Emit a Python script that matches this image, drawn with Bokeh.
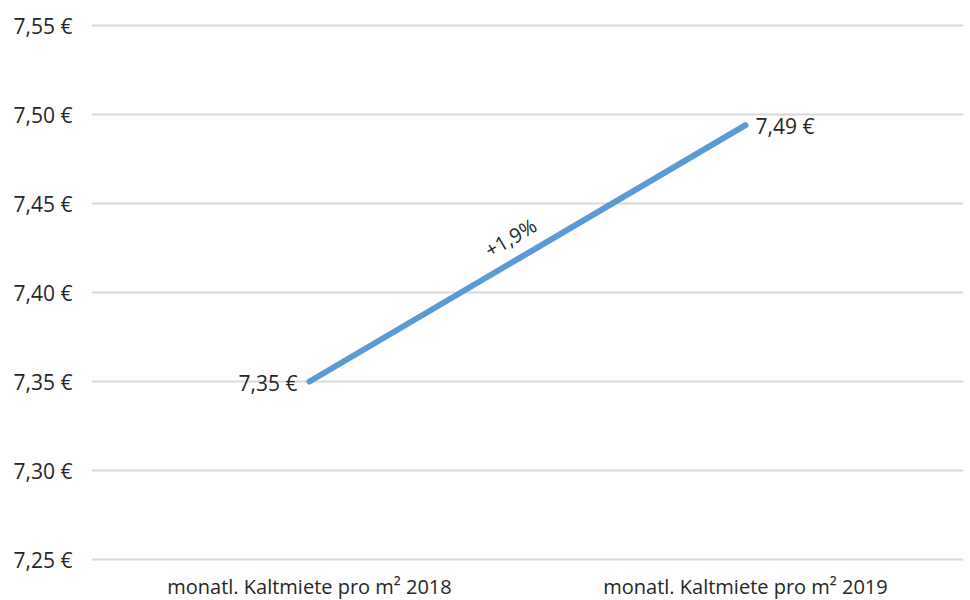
import math
from bokeh.plotting import figure
from bokeh.models import FactorRange, Range1d, FixedTicker, CustomJSTickFormatter, ColumnDataSource
from bokeh.core.properties import value
from bokeh.embed import file_html
from bokeh.resources import INLINE

# Monthly net cold rent per m², 2018 vs. 2019
categories = ["monatl. Kaltmiete pro m² 2018", "monatl. Kaltmiete pro m² 2019"]
rent = [7.35, 7.494]
change_label = "+1,9%"
y_ticks = [7.25, 7.30, 7.35, 7.40, 7.45, 7.50, 7.55]

FONT = "Open Sans"
TEXT_COLOR = "#262626"
LINE_COLOR = "#5B9BD5"
GRID_COLOR = "#d9d9d9"

FRAME_W = 872
PX_PER_UNIT_Y = 1780.0  # pixels per 1 € on the value axis
PAD_PX = 3
FRAME_H = int(round((y_ticks[-1] - y_ticks[0]) * PX_PER_UNIT_Y)) + 2 * PAD_PX
pad = PAD_PX / PX_PER_UNIT_Y

p = figure(
    frame_width=FRAME_W, frame_height=FRAME_H,
    x_range=FactorRange(factors=categories, range_padding=0),
    y_range=Range1d(y_ticks[0] - pad, y_ticks[-1] + pad),
    output_backend="svg", toolbar_location=None,
    min_border_left=91, min_border_right=7,
    min_border_top=22, min_border_bottom=30,
)
p.outline_line_color = None
p.background_fill_color = "white"
p.border_fill_color = "white"

# value axis
p.yaxis.ticker = FixedTicker(ticks=y_ticks)
p.yaxis.formatter = CustomJSTickFormatter(code="return tick.toFixed(2).replace('.', ',') + ' €';")
p.yaxis.axis_line_color = None
p.yaxis.major_tick_line_color = None
p.yaxis.minor_tick_line_color = None
p.yaxis.major_label_standoff = 13
p.yaxis.major_label_text_font = FONT
p.yaxis.major_label_text_font_size = "21px"
p.yaxis.major_label_text_color = TEXT_COLOR

# category axis
p.xaxis.axis_line_color = None
p.xaxis.major_tick_line_color = None
p.xaxis.minor_tick_line_color = None
p.xaxis.major_label_standoff = 4
p.xaxis.major_label_text_font = FONT
p.xaxis.major_label_text_font_size = "20px"
p.xaxis.major_label_text_color = TEXT_COLOR

p.xgrid.grid_line_color = None
p.ygrid.grid_line_color = GRID_COLOR
p.ygrid.grid_line_width = 2

src = ColumnDataSource(data=dict(
    cat=categories,
    rent=rent,
    label=[f"{v:.2f}".replace(".", ",") + " €" for v in rent],
))

p.line(x="cat", y="rent", source=src, line_color=LINE_COLOR, line_width=6, line_cap="round")

# value labels: left of the first point, right of the last
p.text(x=[categories[0]], y=[rent[0]], text=[src.data["label"][0]],
       text_font=value(FONT), text_font_size="21px", text_color=TEXT_COLOR,
       text_align="right", text_baseline="middle", x_offset=-12, y_offset=1)
p.text(x=[categories[1]], y=[rent[1]], text=[src.data["label"][1]],
       text_font=value(FONT), text_font_size="21px", text_color=TEXT_COLOR,
       text_align="left", text_baseline="middle", x_offset=10, y_offset=1)

# change annotation, rotated along the line
dx_px = FRAME_W / 2
dy_px = (rent[1] - rent[0]) * PX_PER_UNIT_Y
angle = math.atan2(dy_px, dx_px)
p.text(x=[1.0], y=[(rent[0] + rent[1]) / 2], text=[change_label],
       text_font=value(FONT), text_font_size="20px", text_color=TEXT_COLOR,
       text_align="center", text_baseline="bottom", angle=angle,
       x_offset=-10, y_offset=-4)

open("out.html", "w").write(file_html(p, INLINE))
